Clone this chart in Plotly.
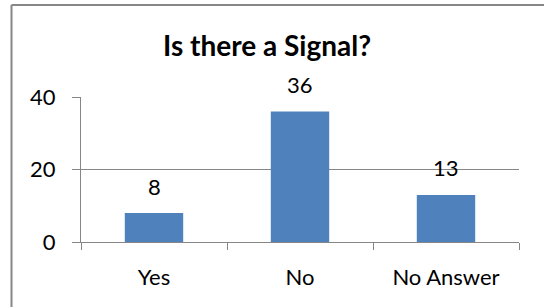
import plotly.graph_objects as go

categories = ["Yes", "No", "No Answer"]
values = [8, 36, 13]
y_ticks = [0, 20, 40]

FONT = "Lato, Calibri, sans-serif"
W, H = 544, 307
L, R, T, B = 81, 25, 97, 65
pw, ph = W - L - R, H - T - B
FS = 22

fig = go.Figure(go.Bar(x=categories, y=values, marker_color="#4F81BD",
                       marker_line_width=0, width=0.4))

for c, v in zip(categories, values):
    fig.add_annotation(x=c, y=v, text=str(v), showarrow=False, yanchor="middle",
                       yshift=27, font=dict(family=FONT, size=FS, color="black"))

def px_x(p):
    return (p - L) / pw

def px_y(p):
    return (H - B - p) / ph

border = dict(color="#868686", width=2)
fig.add_shape(type="line", xref="paper", yref="paper", x0=px_x(11.5), x1=px_x(11.5),
              y0=px_y(5), y1=px_y(320), line=border)
fig.add_shape(type="line", xref="paper", yref="paper", x0=px_x(11.5), x1=px_x(560),
              y0=px_y(5), y1=px_y(5), line=border)

fig.update_layout(
    width=W, height=H,
    margin=dict(l=L, r=R, t=T, b=B),
    paper_bgcolor="white", plot_bgcolor="white",
    showlegend=False,
    title=dict(text="<b>Is there a Signal?</b>", x=267 / W, xref="container", xanchor="center",
               y=1 - 46 / H, yref="container", yanchor="middle",
               font=dict(family=FONT, size=28, color="black")),
    font=dict(family=FONT, size=FS, color="black"),
)
fig.update_xaxes(showline=True, linecolor="#868686", linewidth=1, ticks="outside",
                 tickson="boundaries", ticklen=7, tickcolor="#868686",
                 ticklabelstandoff=16, showgrid=False,
                 tickfont=dict(family=FONT, size=FS, color="black"))
fig.update_yaxes(range=[0, 40], tickvals=y_ticks, showline=True, linecolor="#868686",
                 linewidth=1, ticks="outside", ticklen=8, tickcolor="#868686",
                 showgrid=True, gridcolor="#868686", gridwidth=1, zeroline=False,
                 ticklabelstandoff=12,
                 tickfont=dict(family=FONT, size=FS, color="black"))

fig.write_html("out.html", config={"displayModeBar": False},
               post_script="document.body.style.margin='0';")
